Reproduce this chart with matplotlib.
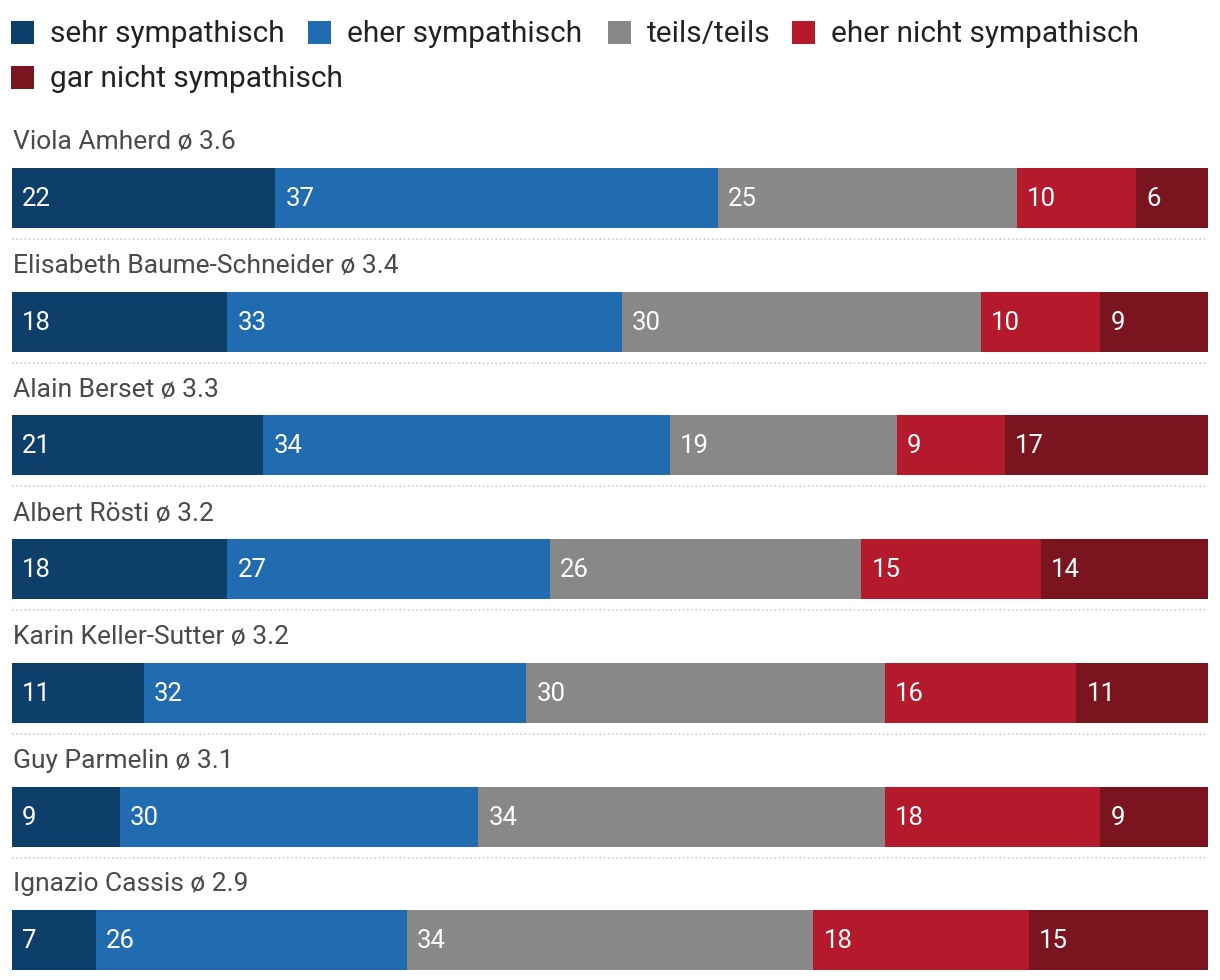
import matplotlib
matplotlib.use("Agg")
import matplotlib.pyplot as plt
from matplotlib.patches import Rectangle

plt.rcParams['font.family'] = ['Roboto', 'DejaVu Sans']

# Daten
categories = ["sehr sympathisch", "eher sympathisch", "teils/teils",
              "eher nicht sympathisch", "gar nicht sympathisch"]
colors = ["#0e3f6a", "#216bb1", "#888888", "#b4192c", "#7a1520"]
names = ["Viola Amherd", "Elisabeth Baume-Schneider", "Alain Berset",
         "Albert Rösti", "Karin Keller-Sutter", "Guy Parmelin", "Ignazio Cassis"]
averages = [3.6, 3.4, 3.3, 3.2, 3.2, 3.1, 2.9]
values = [
    [22, 37, 25, 10, 6],
    [18, 33, 30, 10, 9],
    [21, 34, 19, 9, 17],
    [18, 27, 26, 15, 14],
    [11, 32, 30, 16, 11],
    [9, 30, 34, 18, 9],
    [7, 26, 34, 18, 15],
]

W, H = 1220, 980
fig = plt.figure(figsize=(W / 100, H / 100), dpi=100)

# Achse in Pixelhoehe, x in Prozent
ax = fig.add_axes([12 / W, 0, 1196 / W, 1])
ax.set_xlim(0, 100)
ax.set_ylim(H, 0)
ax.axis("off")

pitch = 123.7
bar_h = 60
for i, (name, avg, row) in enumerate(zip(names, averages, values)):
    top = 168 + i * pitch
    left = 0
    for j, v in enumerate(row):
        ax.barh(top + bar_h / 2, v, left=left, height=bar_h,
                color=colors[j], linewidth=0)
        ax.text(left + 0.85, top + bar_h / 2 + 1, str(v), color="white",
                fontsize=18.5, va="center", ha="left")
        left += v
    ax.text(0.05, top - 26, f"{name} ø {avg}", color="#4a4a4a",
            fontsize=19, va="center", ha="left")
    if i < len(names) - 1:
        ax.plot([0, 100], [top + bar_h + 11] * 2, color="#cccccc",
                linewidth=1.2, linestyle=(0, (1, 1.5)))

# Legende
leg_pos = [(11, 33), (308, 33), (608, 33), (792, 33), (11, 78)]
for (x, y), lab, c in zip(leg_pos, categories, colors):
    fig.patches.append(Rectangle((x / W, 1 - (y + 11.5) / H), 23 / W, 23 / H,
                                 transform=fig.transFigure, color=c,
                                 linewidth=0))
    fig.text((x + 39) / W, 1 - (y + 1) / H, lab, color="#222222", fontsize=21.5,
             va="center", ha="left")

fig.savefig("out.png", dpi=100)
